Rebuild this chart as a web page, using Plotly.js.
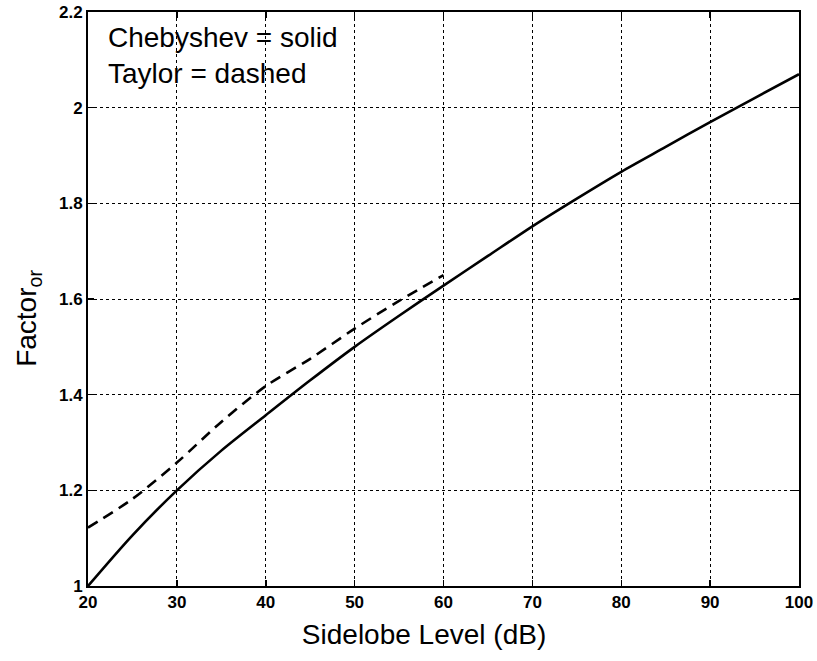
<!DOCTYPE html>
<html>
<head>
<meta charset="utf-8">
<script src="https://cdn.plot.ly/plotly-3.0.1.min.js"></script>
<style>html,body{margin:0;padding:0;background:#fff;}#plot{width:817px;height:661px;}</style>
</head>
<body>
<div id="plot"></div>
<script>
// Chebyshev (solid)
const sidelobeCheb = [20, 25, 30, 35, 40, 45, 50, 55, 60, 65, 70, 75, 80, 85, 90, 95, 100];
const factorCheb   = [1.0, 1.106, 1.2, 1.283, 1.357, 1.43, 1.5, 1.565, 1.628, 1.69, 1.752, 1.81, 1.866, 1.918, 1.97, 2.02, 2.07];
// Taylor (dashed)
const sidelobeTaylor = [20, 25, 30, 35, 40, 45, 50, 55, 60];
const factorTaylor   = [1.122, 1.182, 1.258, 1.343, 1.418, 1.475, 1.538, 1.596, 1.65];

const xTicks = [20, 30, 40, 50, 60, 70, 80, 90, 100];
const yTicks = [1, 1.2, 1.4, 1.6, 1.8, 2, 2.2];
const yTickText = ['1', '1.2', '1.4', '1.6', '1.8', '2', '2.2'];

const traces = [
  {x: sidelobeCheb, y: factorCheb, type: 'scatter', mode: 'lines', name: 'Chebyshev',
   line: {color: '#000', width: 2.6, shape: 'spline', smoothing: 0.8}},
  {x: sidelobeTaylor, y: factorTaylor, type: 'scatter', mode: 'lines', name: 'Taylor',
   line: {color: '#000', width: 2.6, dash: '11px,7px', shape: 'spline', smoothing: 0.8}}
];

const tickFont = {family: 'Liberation Sans, Arial, sans-serif', size: 17, color: '#000', weight: 'bold'};
const titleFont = {family: 'Liberation Sans, Arial, sans-serif', size: 28, color: '#000'};
const noteFont = {family: 'Liberation Sans, Arial, sans-serif', size: 28, color: '#000'};

const layout = {
  width: 817, height: 661,
  margin: {l: 88, r: 18, t: 12, b: 75},
  paper_bgcolor: '#fff', plot_bgcolor: '#fff',
  showlegend: false,
  xaxis: {
    range: [20, 100], tickmode: 'array', tickvals: xTicks, ticktext: xTicks.map(String),
    showline: true, linecolor: '#000', linewidth: 2, mirror: 'ticks',
    ticks: 'inside', ticklen: 6, tickwidth: 1.5, tickcolor: '#000',
    showgrid: true, gridcolor: '#000', gridwidth: 1, griddash: 'dot',
    zeroline: false, tickfont: tickFont,
    title: {text: 'Sidelobe Level (dB)&nbsp;&nbsp;&nbsp;&nbsp;&nbsp;', font: titleFont, standoff: 13}
  },
  yaxis: {
    range: [1, 2.2], tickmode: 'array', tickvals: yTicks, ticktext: yTickText,
    showline: true, linecolor: '#000', linewidth: 2, mirror: 'ticks',
    ticks: 'inside', ticklen: 6, tickwidth: 1.5, tickcolor: '#000',
    showgrid: true, gridcolor: '#000', gridwidth: 1, griddash: 'dot',
    zeroline: false, tickfont: tickFont,
    title: {text: 'Factor<sub>or</sub>&nbsp;&nbsp;&nbsp;&nbsp;&nbsp;', font: titleFont, standoff: 14}
  },
  annotations: [
    {text: 'Chebyshev = solid', xref: 'paper', yref: 'paper', x: 0.026, y: 0.955,
     xanchor: 'left', yanchor: 'middle', showarrow: false, font: noteFont},
    {text: 'Taylor = dashed', xref: 'paper', yref: 'paper', x: 0.026, y: 0.893,
     xanchor: 'left', yanchor: 'middle', showarrow: false, font: noteFont}
  ]
};

Plotly.newPlot('plot', traces, layout, {displayModeBar: false, staticPlot: true});
</script>
</body>
</html>
